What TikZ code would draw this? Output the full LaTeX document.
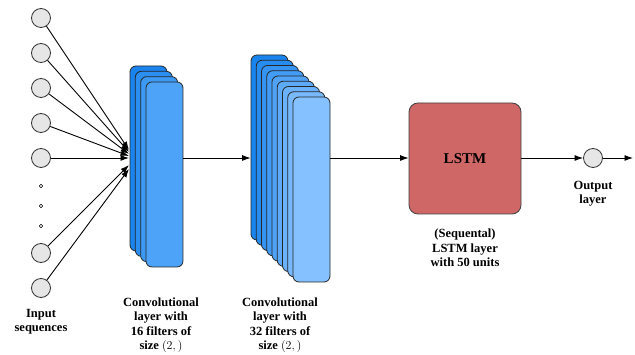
\documentclass[tikz,border=0pt]{standalone}
\usepackage{fontspec}
\setmainfont{Liberation Serif}
\usetikzlibrary{arrows.meta}
\definecolor{cdark}{HTML}{1A84EE}
\definecolor{cmid}{HTML}{4DA3F7}
\definecolor{clight}{HTML}{85C1FF}
\definecolor{lstmred}{HTML}{CF6767}
\definecolor{ingray}{HTML}{E6E6E6}
\tikzset{
  x=1pt, y=-1pt,
  inunit/.style={circle, draw=black!80, fill=ingray, line width=0.8pt, minimum size=19pt, inner sep=0pt},
  dotunit/.style={circle, draw=black, fill=white, line width=0.6pt, minimum size=3.6pt, inner sep=0pt},
  filt/.style={draw=black!85, line width=0.8pt, rounded corners=6pt, minimum width=37pt, minimum height=185pt, inner sep=0pt},
  lstmbox/.style={draw=black!75, line width=0.8pt, rounded corners=9pt, fill=lstmred, minimum width=112pt, minimum height=111pt, inner sep=0pt, font=\fontsize{15}{18}\selectfont\bfseries},
  arr/.style={-{Latex[length=8.5pt,width=6pt]}, line width=0.9pt, black},
  lbl/.style={align=center, font=\fontsize{12.5}{14.5}\selectfont\bfseries, inner sep=0pt},
}
\begin{document}
\begin{tikzpicture}
\useasboundingbox (0,0) rectangle (635,355);
% input units
\node[inunit] (in1) at (41,18) {};
\node[inunit] (in2) at (41,53) {};
\node[inunit] (in3) at (41,88) {};
\node[inunit] (in4) at (41,123) {};
\node[inunit] (in5) at (41,158) {};
\node[dotunit] (d1) at (41,186) {};
\node[dotunit] (d2) at (41,206) {};
\node[dotunit] (d3) at (41,226) {};
\node[inunit] (in6) at (41,253) {};
\node[inunit] (in7) at (41,288) {};
% conv layer 1 (4 filters)
\foreach \i/\c in {0/cdark, 1/cdark!67!cmid, 2/cdark!33!cmid, 3/cmid}{
  \node[filt, fill=\c] (c1\i) at ({148.5+5.33*\i},{158.5+5.33*\i}) {};
}
% conv layer 2 (9 filters)
\foreach \i in {0,...,8}{
  \pgfmathsetmacro{\pc}{100-12.5*\i}
  \node[filt, fill=cdark!\pc!clight] (c2\i) at ({269.5+5.25*\i},{147.5+5.25*\i}) {};
}
% LSTM
\node[lstmbox] (lstm) at (465,158.5) {LSTM};
% output
\node[inunit] (out) at (593,158) {};
\coordinate (outend) at (633,158);
% arrow targets at conv1
\coordinate (t1) at (129,150);
\coordinate (t2) at (129,152);
\coordinate (t3) at (129,154);
\coordinate (t4) at (129,156);
\coordinate (t5) at (129,158);
\coordinate (t6) at (129,165);
\coordinate (t7) at (129,169);
\draw[arr] (in1) -- (t1);
\draw[arr] (in2) -- (t2);
\draw[arr] (in3) -- (t3);
\draw[arr] (in4) -- (t4);
\draw[arr] (in5) -- (t5);
\draw[arr] (in6) -- (t6);
\draw[arr] (in7) -- (t7);
% between layers
\draw[arr] (c13.east |- in5) -- (c20.west |- in5);
\draw[arr] (c28.east |- in5) -- (lstm.west |- in5);
\draw[arr] (lstm.east |- out) -- (out);
\draw[arr] (out) -- (outend);
% labels
\node[lbl] (lin) at (41,321.5) {Input\\sequences};
\node[lbl] (lc1) at (161,325) {Convolutional\\layer with\\16 filters of\\size $(2,)$};
\node[lbl] (lc2) at (280,325) {Convolutional\\layer with\\32 filters of\\size $(2,)$};
\node[lbl] (llstm) at (465,248) {(Sequental)\\LSTM layer\\with 50 units};
\node[lbl] (lout) at (593,193.5) {Output\\layer};
\end{tikzpicture}
\end{document}
